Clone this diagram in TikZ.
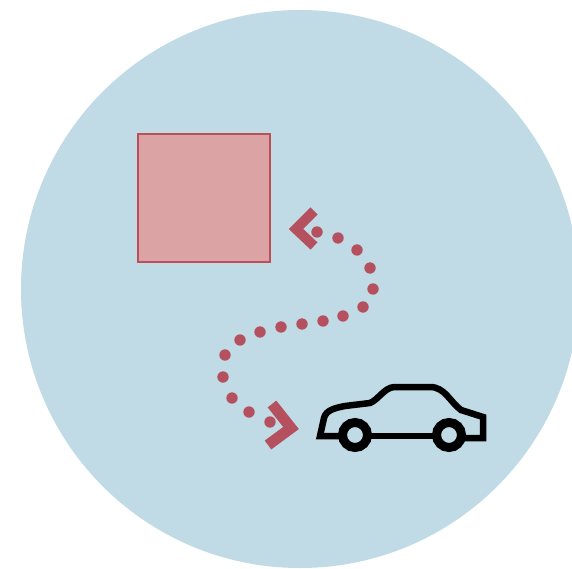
\documentclass[tikz,border=0pt]{standalone}
\definecolor{discblue}{HTML}{C0DBE5}
\definecolor{squarefill}{HTML}{DBA3A3}
\definecolor{squareline}{HTML}{BC4F58}
\definecolor{routered}{HTML}{B5505F}
\tikzset{
  routedot/.style={fill=routered,draw=none},
  chevron/.style={draw=routered,line width=10pt,line join=miter,line cap=butt},
  chevronbig/.style={draw=routered,line width=11pt,line join=miter,line cap=butt},
  carline/.style={draw=black,line width=6.5pt,line join=miter,line cap=butt},
  wheel/.style={draw=black,line width=9pt,fill=discblue}
}
\begin{document}
\begin{tikzpicture}[x=1pt,y=-1pt]
\useasboundingbox (0,0) rectangle (572,569);
\fill[white] (0,0) rectangle (572,569);
\begin{scope}
\clip (0,0) rectangle (572,569);
\fill[discblue] (300,289) circle[radius=279];
\end{scope}
\draw[fill=squarefill,draw=squareline,line width=2.5pt] (138,134) rectangle (270,262);
\draw[chevron] (314,211) -- (296,229) -- (314,246);
\draw[chevronbig] (272,404) -- (291,428) -- (268,445);
\foreach \px/\py in {317/232,338/238,357/250,370/268,373/289,363/307,343/316,323/321,302/324,281/327,260/332,240/340,225/355,223/377,232/398,249/412,270/422}
  \fill[routedot] (\px,\py) circle[radius=5.7];
\draw[carline] (339,436) -- (320,436) -- (324,418) .. controls (326,410) and (335,408) .. (345,406)
  -- (370,403) .. controls (378,400) and (384,388) .. (394,387)
  -- (430,387) .. controls (445,387) and (450,402) .. (461,410)
  -- (483,417) -- (483,438) -- (465,438);
\draw[carline] (365,436) -- (440,436);
\draw[wheel] (355,435) circle[radius=12.5];
\draw[wheel] (449,435) circle[radius=12.5];
\end{tikzpicture}
\end{document}
